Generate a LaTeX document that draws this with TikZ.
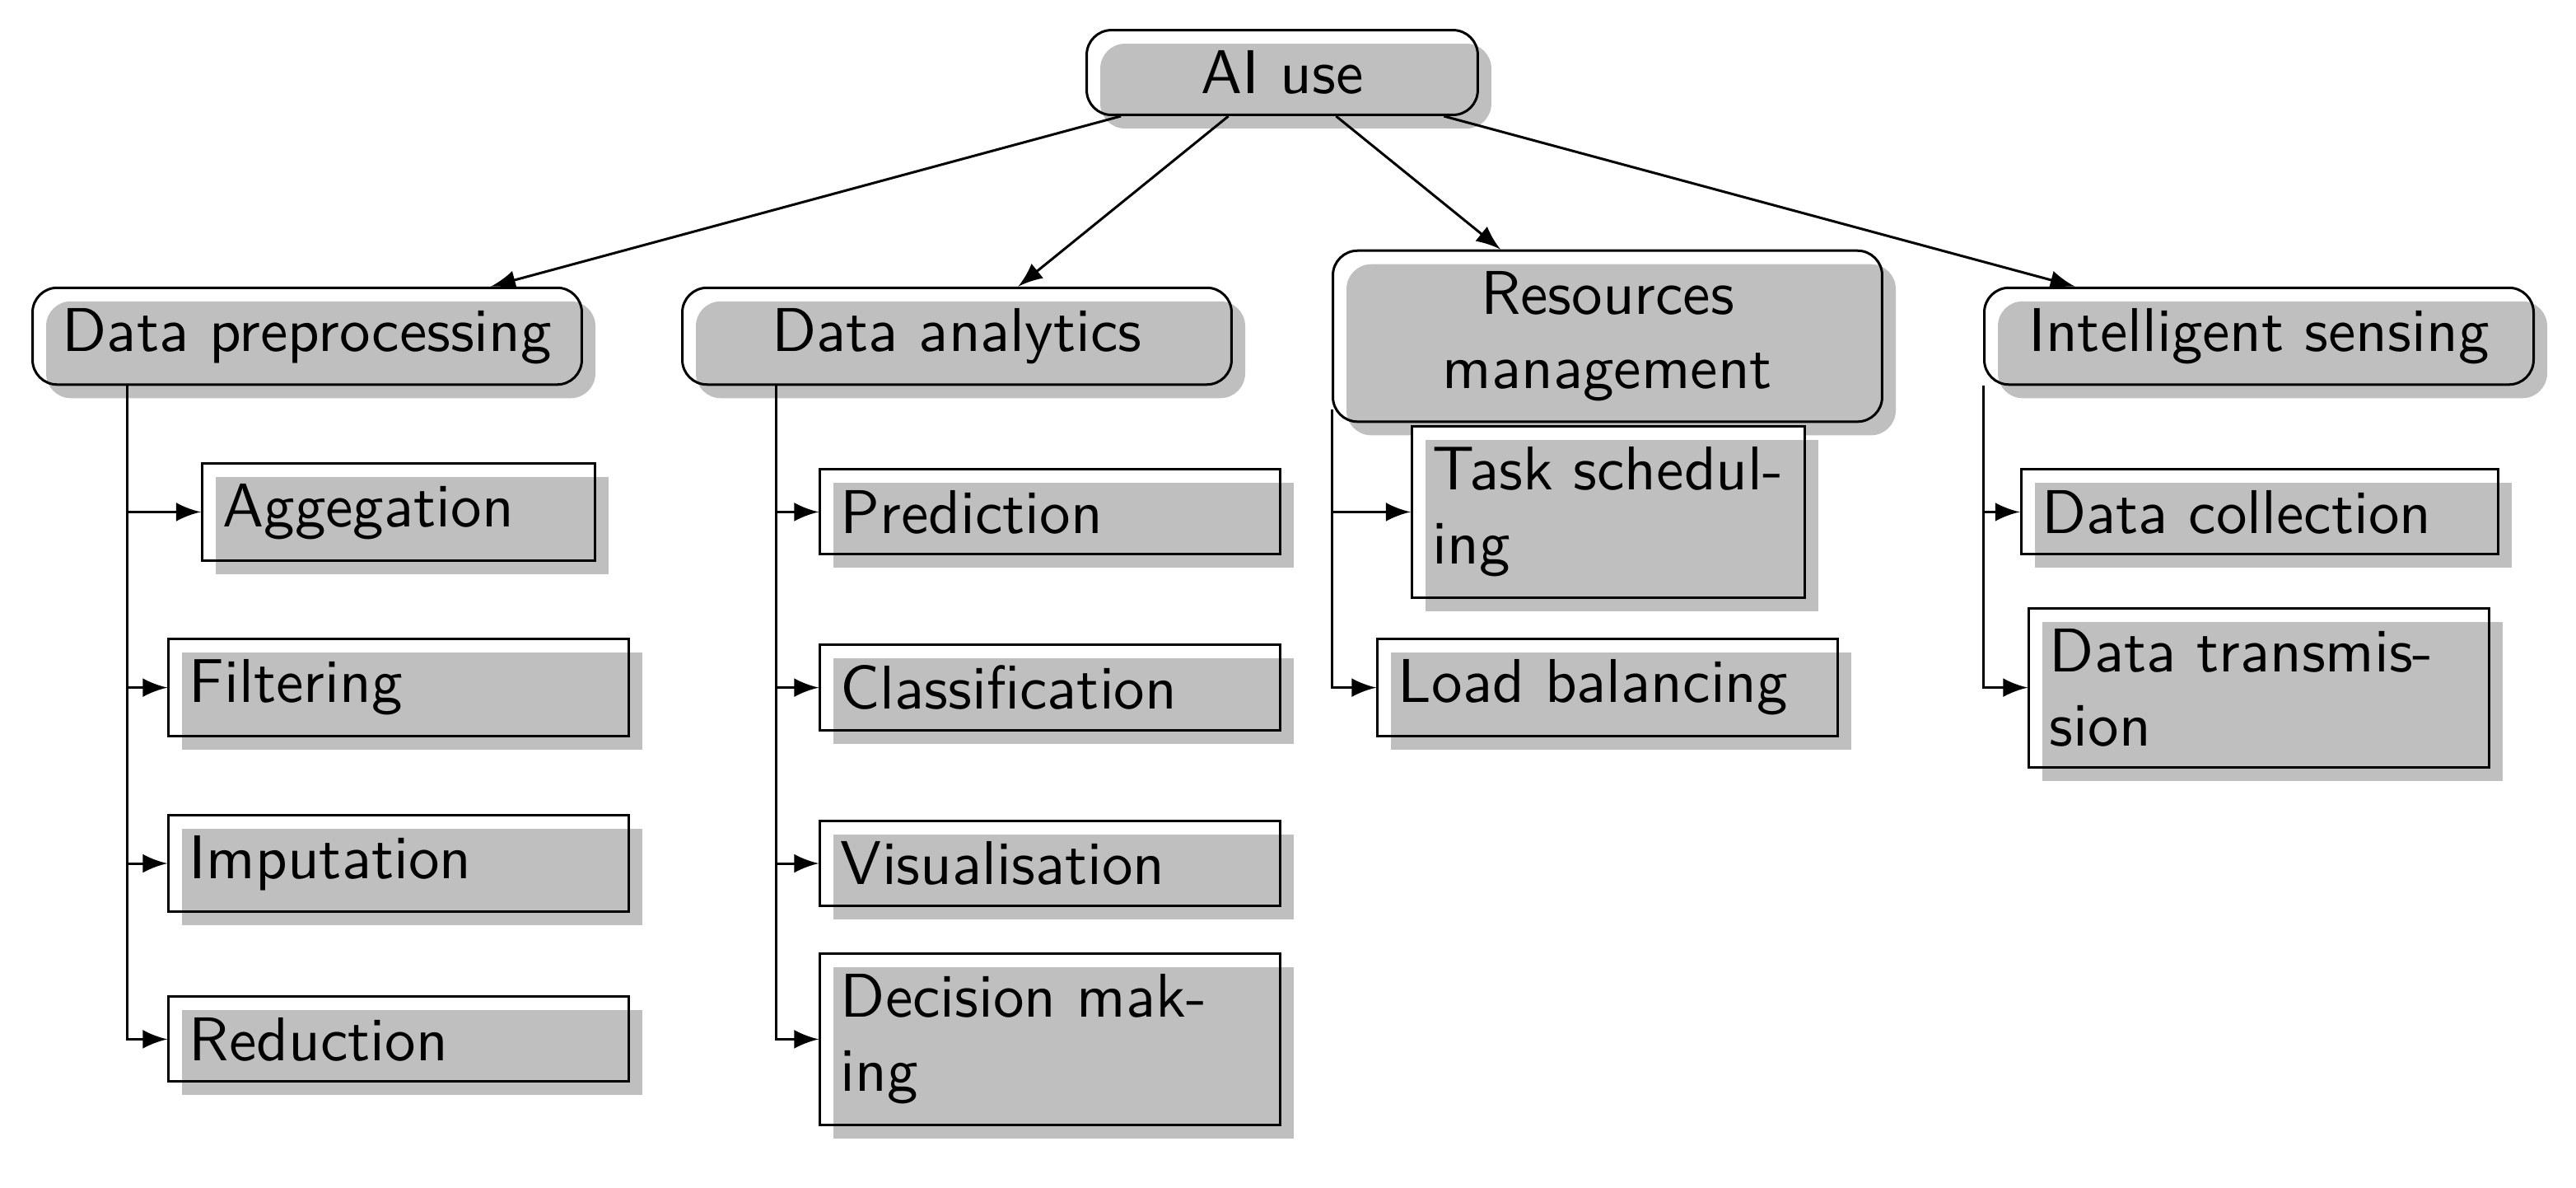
\documentclass[tikz,border=0pt]{standalone}
\usetikzlibrary{shadows}
\begin{document}
\begin{tikzpicture}[x=0.009372cm, y=-0.009372cm,
  font=\sffamily,
  base/.style={draw, line width=0.4pt, preaction={fill=white},
     drop shadow={opacity=1, fill=black!25, shadow xshift=2.2pt, shadow yshift=-2.2pt}},
  topbox/.style={base, rounded corners=4pt, text width=#1, align=center},
  topbox/.default=2.89cm,
  leaf/.style={base, text width=#1, align=left},
  leaf/.default=2.38cm,
  conn/.style={-latex, line width=0.4pt}]
\useasboundingbox (0,0) rectangle (1564,720.5);

% root
\node[topbox=1.99cm] (ai) at (778.5,44) {AI use};

% level 1
\node[topbox] (dp) at (186.5,204) {Data preprocessing};
\node[topbox] (da) at (581,204) {Data analytics};
\node[topbox] (rm) at (976,204) {Resources\\management};
\node[topbox] (is) at (1371.5,204) {Intelligent sensing};

% leaves: data preprocessing
\node[leaf=2cm] (agg) at (242,310.7) {Aggegation};
\node[leaf] (filt) at (242,417.3) {Filtering};
\node[leaf] (imp) at (242,524) {Imputation};
\node[leaf] (red) at (242,630.7) {Reduction};

% leaves: data analytics
\node[leaf] (pred) at (637.5,310.7) {Prediction};
\node[leaf] (clas) at (637.5,417.3) {Classification};
\node[leaf] (vis) at (637.5,524) {Visualisation};
\node[leaf] (dec) at (637.5,630.7) {Decision mak-\\ing};

% leaves: resources management
\node[leaf=2cm] (task) at (976.5,310.7) {Task schedul-\\ing};
\node[leaf] (load) at (976,417.3) {Load balancing};

% leaves: intelligent sensing
\node[leaf=2.48cm] (dcol) at (1372,310.7) {Data collection};
\node[leaf] (dtra) at (1371.5,417.3) {Data transmis-\\sion};

% bus start points
\coordinate (dpb) at ([xshift=0.545cm]dp.south west);
\coordinate (dab) at ([xshift=0.54cm]da.south west);
\coordinate (rmb) at ([yshift=0.075cm]rm.south west);
\coordinate (isb) at (is.south west);

% root edges
\draw[conn] (ai) -- (dp);
\draw[conn] (ai) -- (da);
\draw[conn] (ai) -- (rm);
\draw[conn] (ai) -- (is);

% leaf edges
\draw[conn] (dpb) |- (agg.west);
\draw[conn] (dpb) |- (filt.west);
\draw[conn] (dpb) |- (imp.west);
\draw[conn] (dpb) |- (red.west);

\draw[conn] (dab) |- (pred.west);
\draw[conn] (dab) |- (clas.west);
\draw[conn] (dab) |- (vis.west);
\draw[conn] (dab) |- (dec.west);

\draw[conn] (rmb) |- (task.west);
\draw[conn] (rmb) |- (load.west);

\draw[conn] (isb) |- (dcol.west);
\draw[conn] (isb) |- (dtra.west);
\end{tikzpicture}
\end{document}
